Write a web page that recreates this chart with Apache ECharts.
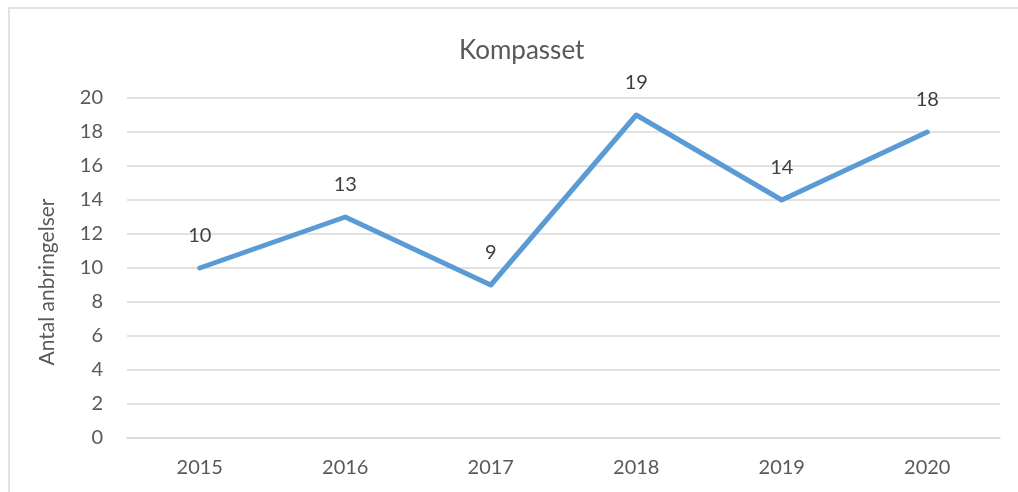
<!DOCTYPE html>
<html>
<head>
<meta charset="utf-8">
<script src="https://cdn.jsdelivr.net/npm/echarts@6/dist/echarts.min.js"></script>
<style>
  html, body { margin: 0; padding: 0; background: #fff; }
  #chart { width: 1018px; height: 492px; }
</style>
</head>
<body>
<div id="chart"></div>
<script>
const years = ['2015', '2016', '2017', '2018', '2019', '2020'];
const placements = [10, 13, 9, 19, 14, 18];
const chartTitle = 'Kompasset';
const yAxisTitle = 'Antal anbringelser';

const FONT = 'Lato, "Open Sans", sans-serif';
const LINE_BLUE = '#5b9bd5';

const chart = echarts.init(document.getElementById('chart'), null, { renderer: 'canvas' });
chart.setOption({
  animation: false,
  backgroundColor: '#ffffff',
  title: {
    text: chartTitle,
    left: 454,
    top: 33,
    textStyle: { fontFamily: FONT, fontSize: 26, fontWeight: 'normal', color: '#595959' }
  },
  graphic: [
    {
      type: 'rect',
      shape: { x: 9, y: 8, width: 1020, height: 500 },
      style: { fill: 'none', stroke: '#d9d9d9', lineWidth: 1.5 },
      silent: true
    },
    {
      type: 'text',
      x: 47,
      y: 282,
      rotation: Math.PI / 2,
      style: {
        text: yAxisTitle,
        fontFamily: FONT,
        fontSize: 21,
        fill: '#595959',
        align: 'center',
        verticalAlign: 'middle'
      }
    }
  ],
  grid: { left: 127, right: 18, top: 98, bottom: 54 },
  xAxis: {
    type: 'category',
    data: years,
    boundaryGap: true,
    axisLine: { show: true, lineStyle: { color: '#d9d9d9', width: 1.5 } },
    axisTick: { show: false },
    axisLabel: { margin: 20, fontFamily: FONT, fontSize: 20, color: '#595959' }
  },
  yAxis: {
    type: 'value',
    min: 0,
    max: 20,
    interval: 2,
    axisLine: { show: false },
    axisTick: { show: false },
    axisLabel: { margin: 24, fontFamily: FONT, fontSize: 20, color: '#595959' },
    splitLine: { lineStyle: { color: '#d9d9d9', width: 1.5 } }
  },
  series: [{
    type: 'line',
    data: placements,
    symbol: 'circle',
    symbolSize: 2,
    showSymbol: true,
    itemStyle: { color: LINE_BLUE },
    lineStyle: { color: LINE_BLUE, width: 5, cap: 'round', join: 'round' },
    label: {
      show: true,
      position: 'top',
      distance: 21,
      fontFamily: FONT,
      fontSize: 20,
      color: '#404040'
    }
  }]
});
</script>
</body>
</html>
